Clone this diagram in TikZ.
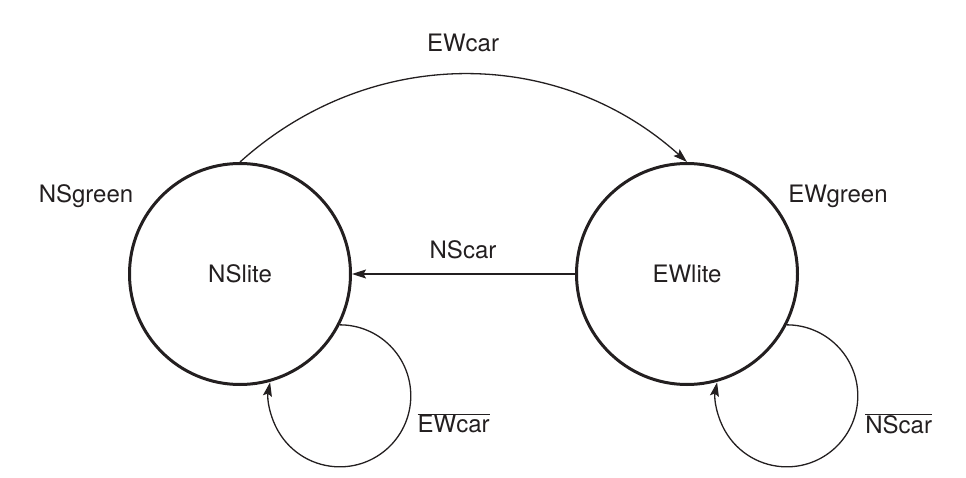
\documentclass[tikz,border=0pt]{standalone}
\usepackage{fontspec}
\setmainfont{TeX Gyre Heros}
\usetikzlibrary{arrows.meta}
\definecolor{ink}{RGB}{35,31,32}
\begin{document}
\begin{tikzpicture}[x=1pt,y=1pt,
  every node/.style={text=ink,font=\fontsize{24}{28}\selectfont},
  state/.style={circle,draw=ink,line width=3pt,minimum size=221pt,inner sep=0pt},
  lbl/.style={anchor=base,inner sep=0pt},
  conn/.style={draw=ink,line width=1.3pt,-{Stealth[length=14pt,width=9pt,inset=2.5pt]}}]
\useasboundingbox (0,0) rectangle (966,477);
\node[state] (NS) at (240,203) {NSlite};
\node[state] (EW) at (687,203) {EWlite};
\node[lbl] (lNSgreen) at (86,274.7) {NSgreen};
\node[lbl] (lEWgreen) at (838,274.3) {EWgreen};
\node[lbl] (lEWcar) at (463,425.3) {EWcar};
\node[lbl] (lNScar) at (463,218) {NScar};
\node[lbl] (lnEWcar) at (453.7,44.3) {$\overline{\hbox{EWcar}}$};
\node[lbl] (lnNScar) at (898.7,43.7) {$\overline{\hbox{NScar}}$};
\draw[conn] (NS.north) to[bend left=42] (EW.north);
\draw[conn] (EW.west) -- (NS.east);
\draw[conn] (NS.-27) arc[start angle=90,end angle=-191,radius=71];
\draw[conn] (EW.-27) arc[start angle=90,end angle=-191,radius=71];
\end{tikzpicture}
\end{document}
